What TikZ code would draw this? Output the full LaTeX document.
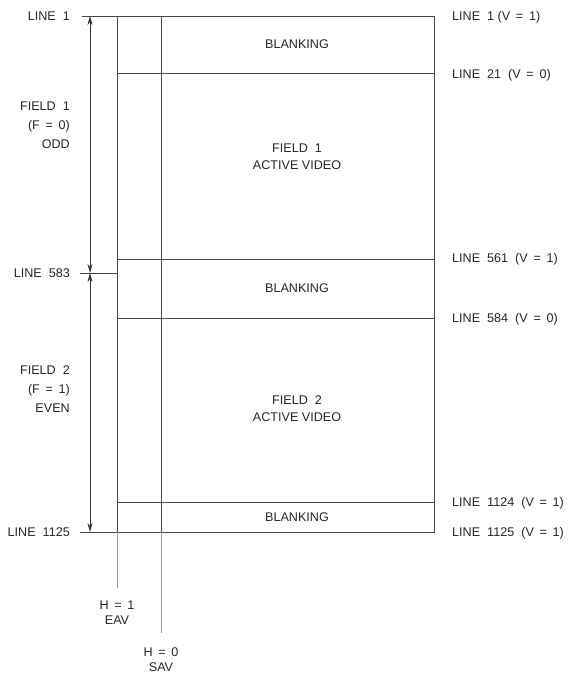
\documentclass[tikz,border=0pt]{standalone}
\usepackage{fontspec}
\setmainfont{Liberation Sans}
\usetikzlibrary{arrows.meta}
\newcommand{\eqsp}{\hspace{0.45em}=\hspace{0.45em}}
\begin{document}
\begin{tikzpicture}[x=1pt,y=-1pt,
  ln/.style={draw=black!72, line width=0.9pt},
  ext/.style={draw=black!40, line width=0.9pt},
  dim/.style={draw=black!80, line width=0.8pt, {Stealth[length=9pt,width=5pt]}-{Stealth[length=9pt,width=5pt]}},
  lbl/.style={font=\fontsize{12.6}{14}\selectfont, text=black!85, inner sep=0pt},
  le/.style={lbl, anchor=base east},
  lw/.style={lbl, anchor=base west},
  lc/.style={lbl, anchor=base}]
\useasboundingbox (0,0) rectangle (568,677);
% coordinates
\coordinate (t0) at (82,16);   \coordinate (tL) at (117,16); \coordinate (tS) at (161,16); \coordinate (tR) at (434,16);
\coordinate (a21) at (117,73); \coordinate (b21) at (434,73);
\coordinate (a561) at (117,259); \coordinate (b561) at (434,259);
\coordinate (a583) at (80,273); \coordinate (b583) at (117,273);
\coordinate (a584) at (117,318); \coordinate (b584) at (434,318);
\coordinate (a1124) at (117,502); \coordinate (b1124) at (434,502);
\coordinate (a1125) at (80,532); \coordinate (bL) at (117,532); \coordinate (bS) at (161,532); \coordinate (b1125) at (434,532);
\coordinate (eEAV) at (117,588); \coordinate (eSAV) at (161,633);
\coordinate (d1) at (90,16); \coordinate (d2) at (90,273); \coordinate (d3) at (90,532);
% frame lines
\draw[ln] (t0) -- (tR) -- (b1125) -- (a1125);
\draw[ln] (tL) -- (bL);
\draw[ln] (tS) -- (bS);
\draw[ln] (a21) -- (b21);
\draw[ln] (a561) -- (b561);
\draw[ln] (a583) -- (b583);
\draw[ln] (a584) -- (b584);
\draw[ln] (a1124) -- (b1124);
% extension lines
\draw[ext] (bL) -- (eEAV);
\draw[ext] (bS) -- (eSAV);
% dimension arrows
\draw[dim] (d1) -- (d2);
\draw[dim] (d2) -- (d3);
% left labels
\node[le] (l1) at (70,20.5) {LINE\ \ 1};
\node[le] (f1a) at (70,110.5) {FIELD\ \ 1};
\node[le] (f1b) at (70,129.5) {(F\eqsp 0)};
\node[le] (f1c) at (70,148.5) {ODD};
\node[le] (l583) at (70,277.5) {LINE\ \ 583};
\node[le] (f2a) at (70,374.5) {FIELD\ \ 2};
\node[le] (f2b) at (70,393.5) {(F\eqsp 1)};
\node[le] (f2c) at (70,412.5) {EVEN};
\node[le] (l1125) at (70,536.5) {LINE\ \ 1125};
% right labels
\node[lw] (r1) at (452,20.5) {LINE\ \ 1 (V\eqsp 1)};
\node[lw] (r21) at (452,78.5) {LINE\ \ 21\ \ (V\eqsp 0)};
\node[lw] (r561) at (452,262.5) {LINE\ \ 561\ \ (V\eqsp 1)};
\node[lw] (r584) at (452,322.5) {LINE\ \ 584\ \ (V\eqsp 0)};
\node[lw] (r1124) at (452,506.5) {LINE\ \ 1124\ \ (V\eqsp 1)};
\node[lw] (r1125) at (452,536.5) {LINE\ \ 1125\ \ (V\eqsp 1)};
% center labels
\node[lc] (bk1) at (297,48.5) {BLANKING};
\node[lc] (av1a) at (297,152.5) {FIELD\ \ 1};
\node[lc] (av1b) at (297,169.5) {ACTIVE VIDEO};
\node[lc] (bk2) at (297,292.5) {BLANKING};
\node[lc] (av2a) at (297,404.5) {FIELD\ \ 2};
\node[lc] (av2b) at (297,421.5) {ACTIVE VIDEO};
\node[lc] (bk3) at (297,521.5) {BLANKING};
% bottom labels
\node[lc] (h1) at (117,609.5) {H\eqsp 1};
\node[lc] (eav) at (117,624.5) {EAV};
\node[lc] (h0) at (161,656.5) {H\eqsp 0};
\node[lc] (sav) at (161,671.5) {SAV};
\end{tikzpicture}
\end{document}
